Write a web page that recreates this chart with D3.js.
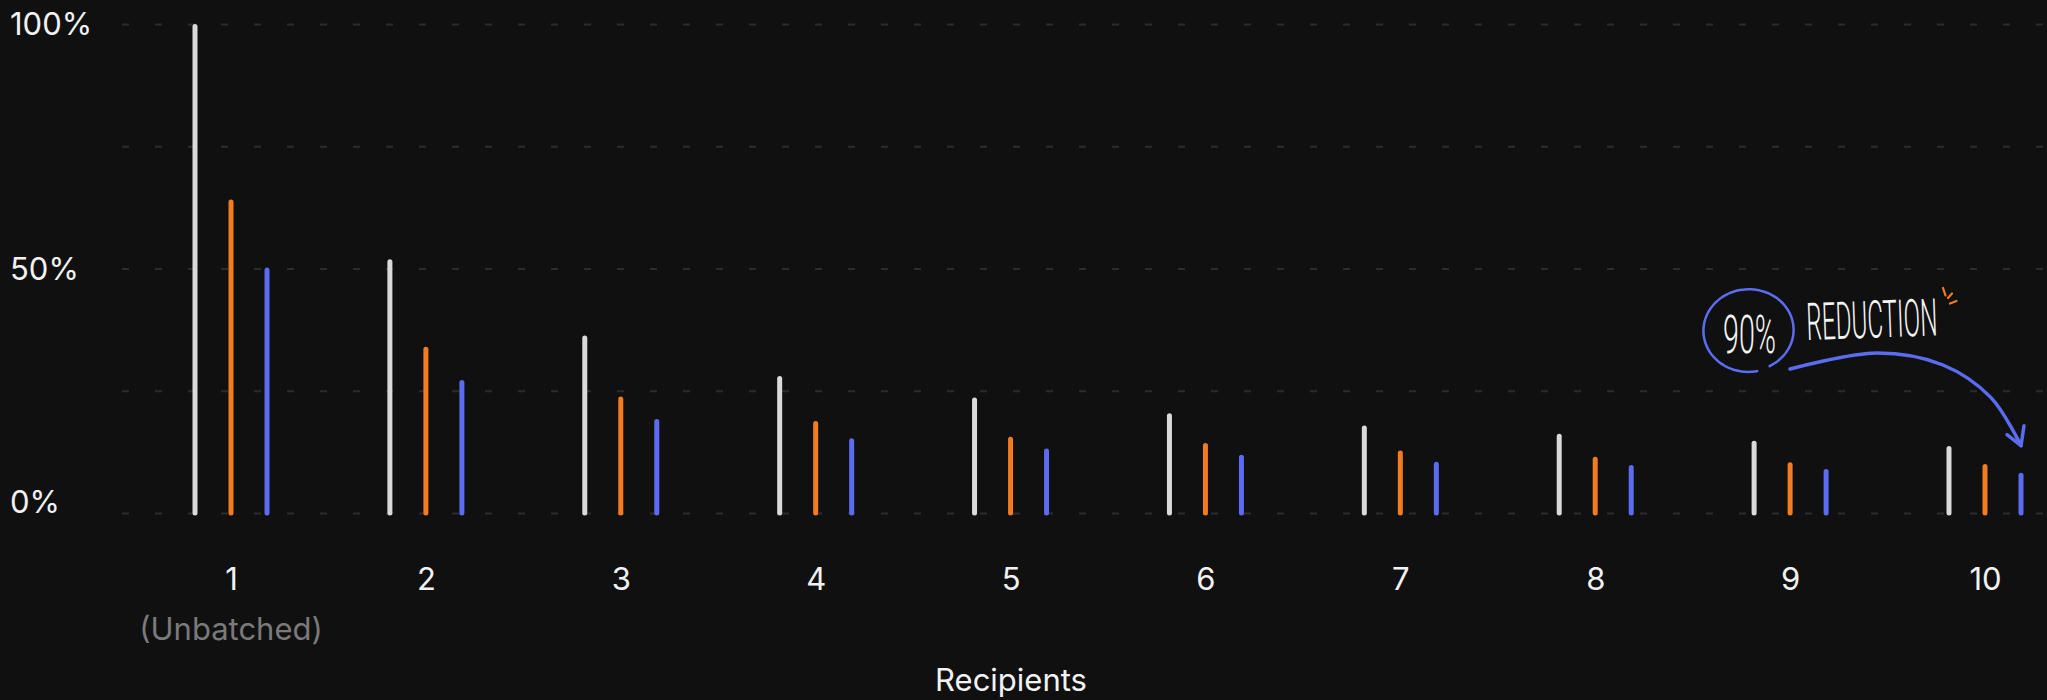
<!DOCTYPE html>
<html>
<head>
<meta charset="utf-8">
<script src="https://cdn.jsdelivr.net/npm/d3@7/dist/d3.min.js"></script>
<style>
    html, body { margin: 0; padding: 0; background: #101010; }
    svg { display: block; }
</style>
</head>
<body>
<div id="viz"></div>
<script>
// data (% of the unbatched cost)
var recipients = ["1", "2", "3", "4", "5", "6", "7", "8", "9", "10"];
var seriesKeys = ["grey", "orange", "blue"];
var greyValues   = [100, 51.9, 36.3, 28.0, 23.6, 20.4, 17.9, 16.2, 14.8, 13.7];
var orangeValues = [64.1, 34.0, 23.8, 18.8, 15.6, 14.3, 12.8, 11.5, 10.4, 10.0];
var blueValues   = [50.2, 27.2, 19.2, 15.3, 13.2, 11.9, 10.5, 9.8, 9.0, 8.25];
var gridValues = [0, 25, 50, 75, 100];
var labelValues = [0, 50, 100];
var subLabel = "(Unbatched)";
var axisTitle = "Recipients";

var W = 2047, H = 700;
var colors = {grey: "#dadada", orange: "#f47b20", blue: "#5b6cf2"};
var font = "Inter, 'Noto Sans', sans-serif";
var barW = 5;

var svg = d3.select("#viz")
    .append("svg")
    .attr("width", W)
    .attr("height", H);

svg.append("rect").attr("width", W).attr("height", H).attr("fill", "#101010");

var x = d3.scalePoint().domain(recipients).range([231, 1985]);
var inner = d3.scalePoint().domain(seriesKeys).range([-36, 36]);
var y = d3.scaleLinear().domain([0, 100]).range([513, 24]);

// dashed grid
var grid = svg.append("g")
    .attr("transform", "translate(122,0)")
    .call(d3.axisLeft(y).tickValues(gridValues).tickSize(-(W - 122)).tickFormat(""));
grid.select(".domain").remove();
grid.selectAll("line")
    .attr("stroke", "#2c2c2c")
    .attr("stroke-width", 2)
    .attr("stroke-dasharray", "7,26");

// y labels (the 0% one sits on the baseline)
svg.selectAll(".ylab")
    .data(labelValues)
    .enter()
    .append("text")
    .attr("class", "ylab")
    .attr("x", 10)
    .attr("y", function(d){ return d === 0 ? y(d) : y(d) + 11; })
    .attr("fill", "#f2f2f2")
    .style("font-family", font)
    .style("font-size", "31px")
    .text(function(d){ return d + "%"; });

// bars
var rows = recipients.map(function(r, i){
    return {r: r, grey: greyValues[i], orange: orangeValues[i], blue: blueValues[i]};
});
var groups = svg.selectAll(".grp")
    .data(rows)
    .enter()
    .append("g")
    .attr("class", "grp")
    .attr("transform", function(d){ return "translate(" + x(d.r) + ",0)"; });
groups.selectAll("line")
    .data(function(d){ return seriesKeys.map(function(k){ return {k: k, v: d[k]}; }); })
    .enter()
    .append("line")
    .attr("x1", function(d){ return inner(d.k); })
    .attr("x2", function(d){ return inner(d.k); })
    .attr("y1", y(0))
    .attr("y2", function(d){ return y(d.v) + barW / 2; })
    .attr("stroke", function(d){ return colors[d.k]; })
    .attr("stroke-width", barW)
    .attr("stroke-linecap", "round");

// x axis labels
var xa = svg.append("g")
    .attr("transform", "translate(0,590)")
    .call(d3.axisBottom(x).tickSize(0));
xa.select(".domain").remove();
xa.selectAll("text")
    .attr("y", 0)
    .attr("dy", 0)
    .attr("fill", "#f2f2f2")
    .style("font-family", font)
    .style("font-size", "31px");

svg.append("text")
    .attr("x", x(recipients[0]))
    .attr("y", 640)
    .attr("text-anchor", "middle")
    .attr("fill", "#7a7a7a")
    .style("font-family", font)
    .style("font-size", "31px")
    .text(subLabel);

svg.append("text")
    .attr("x", 1011)
    .attr("y", 691)
    .attr("text-anchor", "middle")
    .attr("fill", "#f2f2f2")
    .style("font-family", font)
    .style("font-size", "31px")
    .text(axisTitle);

// hand drawn note, anchored on the last blue bar
var last = recipients.length - 1;
var tipX = x(recipients[last]) + inner("blue");
var tipY = y(blueValues[last]) - 27;
var note = svg.append("g");
var hand = "Roboto, 'Liberation Sans Narrow', sans-serif";
var blueInk = "#5b6cf0";

// loop round "90%"
var cx = 1748, cy = 332;
var loop = d3.range(78, 424, 4).map(function(a){
    var t = (a - 78) / 346;
    var rad = a * Math.PI / 180;
    return [cx + (44 + 2 * t) * Math.cos(rad), cy + (40 + 2 * t) * Math.sin(rad) - 3 * t];
});
note.append("path")
    .attr("d", d3.line().curve(d3.curveBasis)(loop))
    .attr("fill", "none")
    .attr("stroke", blueInk)
    .attr("stroke-width", 2.5)
    .attr("stroke-linecap", "round");

// narrow hand lettering: squeeze the text to the width seen in the picture
function squeezed(txt, px, x0, y0, angle, width){
    var t = note.append("text")
        .attr("fill", "#f4f4f4")
        .style("font-family", hand)
        .style("font-weight", 300)
        .style("font-size", px + "px")
        .text(txt);
    var sx = width / t.node().getComputedTextLength();
    t.attr("transform", "translate(" + x0 + "," + y0 + ") rotate(" + angle + ") scale(" + sx + ",1)");
    return t;
}
squeezed("90%", 54, 1723, 353, 0, 53);
squeezed("REDUCTION", 52, 1807, 340, -2, 131);

// little orange marks
var marks = [[[1943, 288], [1945.5, 295.5]], [[1948, 298], [1952, 293.5]], [[1950, 303.5], [1956.5, 301]]];
note.selectAll(".mark")
    .data(marks)
    .enter()
    .append("path")
    .attr("class", "mark")
    .attr("d", function(d){ return d3.line()(d); })
    .attr("stroke", "#f47b20")
    .attr("stroke-width", 2.2)
    .attr("stroke-linecap", "round");

// curved arrow
var arrowPts = [[1790, 369], [1877, 353], [1943, 365], [tipX - 30, tipY - 48], [tipX, tipY]];
note.append("path")
    .attr("d", d3.line().curve(d3.curveCatmullRom)(arrowPts))
    .attr("fill", "none")
    .attr("stroke", blueInk)
    .attr("stroke-width", 3.5)
    .attr("stroke-linecap", "round");
note.append("path")
    .attr("d", d3.line()([[tipX - 14, tipY - 11], [tipX, tipY], [tipX + 3, tipY - 20]]))
    .attr("fill", "none")
    .attr("stroke", blueInk)
    .attr("stroke-width", 3.5)
    .attr("stroke-linecap", "round")
    .attr("stroke-linejoin", "round");
</script>
</body>
</html>
